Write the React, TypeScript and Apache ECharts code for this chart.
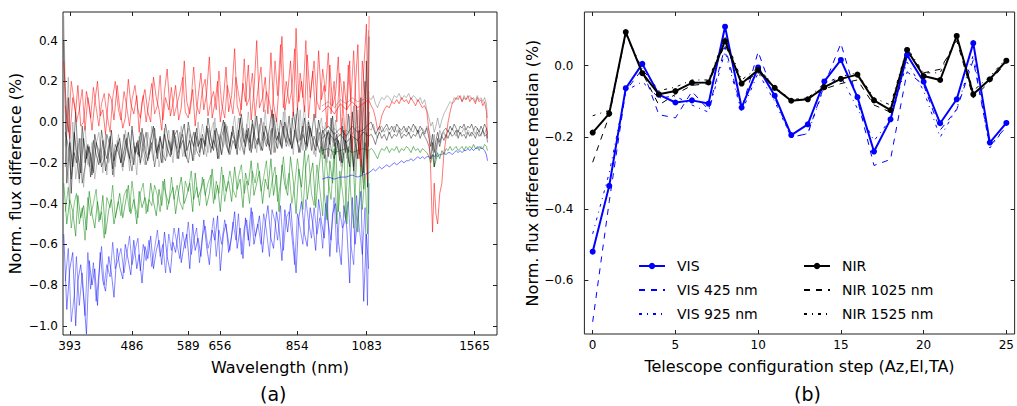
import React, { useEffect, useRef } from "react";
import * as echarts from "echarts";

// ---------- Panel (a): spectra ----------
const visWl = [
  385, 389, 393, 397, 401, 404, 408, 412, 416, 420,
  424, 428, 432, 436, 440, 444, 449, 453, 457, 462,
  466, 471, 475, 480, 484, 489, 494, 498, 503, 508,
  513, 518, 523, 528, 533, 538, 543, 548, 554, 559,
  564, 570, 575, 581, 586, 592, 598, 603, 609, 615,
  621, 627, 633, 639, 645, 651, 657, 664, 670, 676,
  683, 690, 696, 703, 710, 716, 723, 730, 737, 744,
  751, 759, 766, 773, 781, 788, 796, 803, 811, 819,
  827, 835, 843, 851, 859, 867, 876, 884, 893, 901,
  910, 919, 928, 937, 946, 955, 964, 974, 983, 993,
  1002, 1012, 1022, 1031, 1041, 1051, 1062, 1072, 1082, 1090,
];
const visWlB = [
  387, 391, 395, 399, 402, 406, 410, 414, 418, 422,
  426, 430, 434, 438, 442, 446, 451, 455, 459, 464,
  468, 473, 477, 482, 486, 491, 496, 500, 505, 510,
  515, 520, 525, 530, 535, 540, 545, 551, 556, 561,
  567, 572, 578, 583, 589, 595, 600, 606, 612, 618,
  624, 630, 636, 642, 648, 654, 660, 667, 673, 679,
  686, 693, 699, 706, 713, 719, 726, 733, 740, 747,
  755, 762, 769, 777, 784, 792, 799, 807, 815, 823,
  831, 839, 847, 855, 863, 871, 880, 888, 897, 905,
  914, 923, 932, 941, 950, 959, 969, 978, 988, 997,
  1007, 1017, 1026, 1036, 1046, 1056, 1067, 1077, 1086, 1092,
];

const blueVis1 = [
  -0.55, -0.92, -0.72, -0.64, -1.00, -0.78, -0.70, -0.86, -1.04, -0.68,
  -0.80, -0.72, -0.90, -0.64, -0.78, -0.83, -0.66, -0.74, -0.86, -0.62,
  -0.71, -0.77, -0.60, -0.68, -0.75, -0.58, -0.72, -0.65, -0.79, -0.61,
  -0.67, -0.56, -0.72, -0.63, -0.58, -0.70, -0.54, -0.66, -0.74, -0.59,
  -0.64, -0.52, -0.69, -0.60, -0.55, -0.72, -0.50, -0.63, -0.57, -0.66,
  -0.48, -0.61, -0.70, -0.53, -0.58, -0.46, -0.73, -0.55, -0.50, -0.64,
  -0.56, -0.44, -0.62, -0.52, -0.67, -0.47, -0.58, -0.42, -0.60, -0.53,
  -0.46, -0.64, -0.50, -0.41, -0.57, -0.62, -0.44, -0.52, -0.68, -0.43,
  -0.54, -0.40, -0.58, -0.74, -0.47, -0.39, -0.55, -0.61, -0.42, -0.50,
  -0.63, -0.38, -0.49, -0.57, -0.36, -0.66, -0.45, -0.40, -0.58, -0.70,
  -0.41, -0.52, -0.79, -0.37, -0.60, -0.46, -0.34, -0.88, -0.55, -0.72,
];
const blueVis2 = [
  -0.78, -0.62, -0.98, -0.85, -0.66, -0.90, -0.74, -0.95, -0.64, -0.82,
  -0.69, -0.88, -0.75, -0.61, -0.80, -0.70, -0.76, -0.59, -0.72, -0.67,
  -0.62, -0.74, -0.66, -0.56, -0.70, -0.63, -0.57, -0.73, -0.60, -0.68,
  -0.58, -0.71, -0.62, -0.53, -0.66, -0.60, -0.74, -0.55, -0.63, -0.52,
  -0.60, -0.67, -0.54, -0.62, -0.49, -0.65, -0.58, -0.52, -0.69, -0.56,
  -0.51, -0.62, -0.57, -0.47, -0.66, -0.53, -0.60, -0.48, -0.55, -0.63,
  -0.49, -0.58, -0.45, -0.65, -0.52, -0.48, -0.61, -0.44, -0.56, -0.50,
  -0.60, -0.45, -0.53, -0.66, -0.43, -0.49, -0.58, -0.41, -0.63, -0.47,
  -0.44, -0.56, -0.70, -0.45, -0.52, -0.60, -0.38, -0.49, -0.57, -0.42,
  -0.55, -0.47, -0.62, -0.40, -0.50, -0.58, -0.37, -0.64, -0.44, -0.52,
  -0.48, -0.39, -0.60, -0.70, -0.36, -0.52, -0.65, -0.42, -0.90, -0.30,
];
const greenVis1 = [
  -0.30, -0.50, -0.38, -0.44, -0.56, -0.36, -0.47, -0.41, -0.53, -0.34,
  -0.45, -0.52, -0.39, -0.48, -0.36, -0.55, -0.43, -0.38, -0.50, -0.42,
  -0.35, -0.47, -0.40, -0.31, -0.45, -0.38, -0.50, -0.34, -0.42, -0.37,
  -0.44, -0.30, -0.39, -0.46, -0.33, -0.41, -0.28, -0.43, -0.36, -0.32,
  -0.45, -0.34, -0.27, -0.40, -0.36, -0.30, -0.44, -0.25, -0.37, -0.33,
  -0.28, -0.41, -0.35, -0.23, -0.38, -0.31, -0.44, -0.26, -0.34, -0.29,
  -0.39, -0.22, -0.33, -0.28, -0.42, -0.25, -0.31, -0.19, -0.36, -0.30,
  -0.24, -0.40, -0.28, -0.33, -0.18, -0.36, -0.26, -0.44, -0.21, -0.31,
  -0.36, -0.17, -0.29, -0.45, -0.23, -0.32, -0.14, -0.38, -0.27, -0.20,
  -0.42, -0.25, -0.12, -0.35, -0.48, -0.19, -0.30, -0.10, -0.44, -0.26,
  -0.15, -0.50, -0.28, -0.08, -0.40, -0.54, -0.18, -0.33, -0.05, -0.45,
];
const greenVis2 = [
  -0.44, -0.32, -0.52, -0.40, -0.35, -0.50, -0.42, -0.58, -0.37, -0.46,
  -0.40, -0.33, -0.49, -0.44, -0.57, -0.37, -0.42, -0.31, -0.47, -0.39,
  -0.46, -0.36, -0.33, -0.44, -0.29, -0.41, -0.47, -0.35, -0.30, -0.45,
  -0.38, -0.41, -0.31, -0.36, -0.44, -0.29, -0.35, -0.40, -0.27, -0.38,
  -0.31, -0.39, -0.43, -0.29, -0.34, -0.24, -0.38, -0.32, -0.41, -0.27,
  -0.36, -0.30, -0.26, -0.40, -0.29, -0.35, -0.22, -0.39, -0.31, -0.24,
  -0.33, -0.37, -0.27, -0.21, -0.35, -0.29, -0.40, -0.24, -0.30, -0.20,
  -0.34, -0.27, -0.19, -0.37, -0.29, -0.22, -0.39, -0.30, -0.17, -0.33,
  -0.25, -0.40, -0.31, -0.18, -0.28, -0.43, -0.22, -0.16, -0.35, -0.41,
  -0.21, -0.33, -0.46, -0.16, -0.29, -0.38, -0.13, -0.50, -0.24, -0.34,
  -0.47, -0.12, -0.36, -0.52, -0.20, -0.10, -0.43, -0.26, -0.55, -0.14,
];
const blackVis1 = [
  0.40, -0.30, -0.10, -0.22, 0.05, -0.16, -0.25, -0.08, -0.18, -0.12,
  -0.26, -0.06, -0.14, -0.20, -0.09, -0.24, -0.15, -0.04, -0.19, -0.12,
  -0.08, -0.22, -0.16, -0.05, -0.13, -0.21, -0.10, -0.17, -0.03, -0.14,
  -0.19, -0.09, -0.02, -0.15, -0.11, -0.20, -0.06, -0.13, -0.17, -0.04,
  -0.10, -0.18, -0.07, -0.01, -0.14, -0.09, -0.19, -0.05, -0.12, -0.08,
  -0.16, -0.02, -0.10, -0.13, -0.04, -0.18, -0.07, 0.01, -0.11, -0.15,
  -0.05, -0.09, -0.16, 0.02, -0.08, -0.12, -0.03, -0.15, -0.06, 0.03,
  -0.10, -0.14, -0.02, -0.07, -0.16, 0.04, -0.09, -0.05, -0.13, 0.00,
  -0.06, -0.11, 0.05, -0.04, -0.15, -0.08, 0.02, -0.12, -0.03, -0.09,
  -0.14, 0.01, -0.07, -0.18, -0.05, -0.11, 0.03, -0.16, -0.09, -0.20,
  -0.04, -0.13, -0.22, 0.05, -0.10, -0.18, 0.12, -0.25, 0.30, -0.12,
];
const blackVis2 = [
  -0.22, 0.12, -0.35, -0.05, -0.14, -0.28, -0.02, -0.20, -0.11, -0.27,
  -0.09, -0.16, -0.21, -0.04, -0.13, -0.18, -0.07, -0.23, -0.11, -0.15,
  -0.20, -0.06, -0.12, -0.18, -0.02, -0.15, -0.09, -0.20, -0.12, -0.05,
  -0.16, -0.12, -0.03, -0.18, -0.08, -0.13, -0.01, -0.10, -0.16, -0.07,
  -0.04, -0.13, -0.09, -0.17, 0.00, -0.08, -0.12, -0.03, -0.15, -0.06,
  -0.11, 0.02, -0.07, -0.14, -0.03, -0.09, -0.16, 0.00, -0.06, -0.12,
  -0.02, -0.13, -0.06, 0.04, -0.10, -0.04, -0.14, 0.01, -0.08, -0.11,
  0.02, -0.07, -0.12, -0.03, 0.06, -0.09, -0.13, 0.01, -0.05, -0.10,
  0.03, -0.13, -0.06, 0.07, -0.09, -0.02, -0.14, 0.00, -0.07, 0.04,
  -0.10, -0.15, -0.04, -0.08, -0.17, 0.02, -0.12, -0.06, -0.19, -0.02,
  -0.15, 0.04, -0.09, -0.24, 0.08, -0.16, -0.05, 0.20, -0.32, 0.42,
];
const blackVis3 = [
  -0.05, -0.12, -0.28, -0.15, -0.20, -0.08, -0.30, -0.22, -0.12, -0.16,
  -0.25, -0.10, -0.14, -0.22, -0.18, -0.06, -0.12, -0.26, -0.15, -0.10,
  -0.20, -0.14, -0.08, -0.18, -0.24, -0.12, -0.16, -0.05, -0.13, -0.21,
  -0.15, -0.10, -0.22, -0.13, -0.07, -0.16, -0.19, -0.09, -0.14, -0.04,
  -0.18, -0.11, -0.06, -0.15, -0.20, -0.10, -0.05, -0.14, -0.17, -0.08,
  -0.12, -0.03, -0.15, -0.09, -0.13, -0.18, -0.07, -0.02, -0.12, -0.16,
  -0.09, -0.13, -0.04, -0.11, -0.16, -0.06, -0.10, -0.01, -0.13, -0.08,
  -0.14, -0.05, -0.09, -0.12, -0.03, -0.15, -0.07, -0.11, -0.02, -0.12,
  -0.08, -0.13, -0.04, -0.10, -0.15, -0.06, -0.11, -0.02, -0.14, -0.07,
  -0.12, -0.05, -0.16, -0.09, -0.04, -0.13, -0.18, -0.08, -0.11, -0.20,
  -0.09, -0.15, -0.06, -0.22, -0.12, -0.04, -0.26, -0.10, -0.18, 0.05,
];
const grayVis1 = [
  0.52, -0.12, -0.38, 0.00, -0.28, -0.20, -0.08, -0.32, -0.14, -0.22,
  -0.10, -0.28, -0.18, -0.13, -0.25, -0.06, -0.20, -0.15, -0.27, -0.09,
  -0.17, -0.24, -0.04, -0.14, -0.20, -0.10, -0.26, -0.07, -0.16, -0.21,
  -0.05, -0.12, -0.19, -0.08, -0.22, -0.14, -0.03, -0.17, -0.10, -0.20,
  -0.07, -0.15, -0.02, -0.12, -0.18, -0.06, -0.10, -0.16, 0.00, -0.13,
  -0.09, -0.17, -0.04, -0.11, 0.02, -0.14, -0.07, -0.12, -0.01, -0.16,
  -0.06, 0.03, -0.10, -0.14, -0.03, -0.08, 0.05, -0.12, -0.05, -0.15,
  -0.01, -0.09, 0.06, -0.11, -0.04, -0.15, 0.02, -0.07, -0.12, 0.07,
  -0.08, -0.03, -0.16, 0.04, -0.10, -0.05, 0.08, -0.13, -0.02, -0.09,
  -0.17, -0.04, 0.02, -0.12, -0.20, -0.06, -0.10, 0.01, -0.15, -0.22,
  -0.07, -0.18, 0.03, -0.12, -0.26, 0.06, -0.14, -0.30, 0.18, 0.45,
];
const grayVis2 = [
  -0.12, 0.22, -0.26, -0.06, -0.18, -0.30, -0.10, -0.02, -0.21, -0.15,
  -0.24, -0.11, -0.05, -0.19, -0.14, -0.26, -0.08, -0.17, -0.22, -0.06,
  -0.13, -0.19, -0.09, -0.24, -0.04, -0.16, -0.11, -0.21, -0.06, -0.14,
  -0.18, -0.02, -0.11, -0.16, -0.07, -0.20, -0.13, -0.04, -0.15, -0.09,
  -0.13, -0.05, -0.17, -0.10, -0.03, -0.14, -0.19, -0.07, -0.11, -0.01,
  -0.08, -0.15, -0.05, 0.00, -0.12, -0.06, -0.16, -0.09, -0.02, -0.13,
  -0.04, -0.10, 0.02, -0.07, -0.15, -0.01, -0.09, -0.13, 0.03, -0.06,
  -0.11, 0.00, -0.05, -0.14, 0.04, -0.08, -0.03, -0.12, 0.05, -0.07,
  -0.12, 0.02, -0.06, -0.10, 0.06, -0.14, -0.04, 0.01, -0.11, -0.16,
  -0.03, -0.09, -0.14, 0.00, -0.12, -0.18, -0.05, -0.10, -0.16, 0.02,
  -0.11, -0.20, -0.06, 0.08, -0.18, -0.09, -0.27, 0.10, -0.20, 0.15,
];
const redVis1 = [
  0.30, 0.02, -0.08, 0.12, 0.05, 0.18, -0.02, 0.00, 0.15, 0.08,
  -0.04, 0.10, 0.20, 0.03, 0.06, -0.06, 0.14, 0.11, 0.01, 0.18,
  0.07, -0.03, 0.02, 0.21, 0.09, 0.04, 0.13, -0.05, 0.10, 0.16,
  0.05, 0.00, 0.22, 0.12, 0.06, -0.04, 0.15, 0.26, 0.03, 0.09,
  0.18, 0.01, 0.07, 0.30, 0.10, 0.04, 0.16, -0.02, 0.12, 0.24,
  0.06, 0.14, 0.32, 0.02, 0.09, 0.20, 0.00, 0.11, 0.27, 0.05,
  0.13, 0.36, 0.08, 0.03, 0.19, 0.10, 0.28, 0.01, 0.15, 0.40,
  0.07, 0.12, 0.22, 0.04, 0.34, 0.09, 0.00, 0.18, 0.42, 0.06,
  0.14, 0.30, 0.03, 0.46, 0.10, 0.20, 0.05, 0.33, 0.12, 0.25,
  0.02, 0.35, 0.11, 0.18, -0.03, 0.28, 0.08, 0.14, 0.32, -0.06,
  0.20, 0.06, 0.30, -0.15, 0.15, 0.38, -0.22, 0.25, 0.48, -0.10,
];
const redVis2 = [
  0.08, -0.05, 0.20, 0.10, 0.00, 0.06, 0.16, -0.04, 0.12, 0.02,
  0.17, 0.07, -0.02, 0.09, 0.14, 0.04, -0.05, 0.12, 0.20, 0.06,
  0.01, 0.15, 0.08, -0.02, 0.11, 0.18, 0.06, 0.02, 0.13, 0.00,
  0.10, 0.19, 0.04, 0.08, 0.23, 0.01, 0.12, 0.06, 0.17, 0.03,
  0.09, 0.14, 0.22, 0.05, 0.02, 0.12, 0.27, 0.08, 0.04, 0.16,
  0.21, 0.03, 0.10, 0.15, 0.06, 0.25, 0.09, 0.02, 0.18, 0.12,
  0.04, 0.22, 0.14, 0.06, 0.31, 0.08, 0.12, 0.24, 0.03, 0.16,
  0.27, 0.05, 0.15, 0.10, 0.02, 0.30, 0.13, 0.38, 0.07, 0.20,
  0.09, 0.16, 0.36, 0.06, 0.24, 0.12, 0.40, 0.02, 0.18, 0.30,
  0.10, 0.06, 0.26, 0.15, 0.34, 0.04, 0.20, 0.00, 0.24, 0.12,
  -0.08, 0.28, 0.10, 0.35, 0.02, -0.18, 0.30, 0.12, -0.28, 0.52,
];

const nirWl = [
  930, 950, 970, 990, 1010, 1030, 1050, 1070, 1090,
  1100, 1108, 1116, 1124, 1132, 1140,
  1150, 1160, 1170, 1180, 1190, 1200, 1210, 1220, 1230, 1240,
  1250, 1260, 1270, 1280, 1290, 1300, 1310, 1320, 1330, 1340,
  1348, 1356, 1364, 1372, 1380, 1390, 1400, 1410, 1420, 1430,
  1440, 1450, 1460, 1470, 1480, 1490, 1500, 1510, 1520, 1530,
  1540, 1550, 1560, 1570, 1580, 1590, 1600, 1610, 1620, 1630, 1636,
];
const redNir = [
  0.05, 0.08, 0.04, 0.09, 0.06, 0.10, 0.07, 0.09, 0.11,
  0.08, 0.06, 0.02, -0.04, -0.02, 0.03,
  0.06, 0.08, 0.07, 0.10, 0.09, 0.11, 0.09, 0.12, 0.10, 0.11,
  0.09, 0.12, 0.10, 0.08, 0.11, 0.09, 0.07, 0.08, 0.05, -0.05,
  -0.25, -0.54, -0.30, -0.45, -0.50, -0.35, -0.30, -0.15, -0.08, 0.00,
  0.05, 0.09, 0.10, 0.12, 0.11, 0.13, 0.10, 0.12, 0.11, 0.13,
  0.10, 0.12, 0.11, 0.09, 0.12, 0.10, 0.11, 0.08, 0.10, 0.05, -0.08,
];
const grayNirTop = [
  0.08, 0.10, 0.07, 0.11, 0.09, 0.12, 0.10, 0.11, 0.12,
  0.11, 0.13, 0.09, 0.07, 0.10, 0.12,
  0.11, 0.13, 0.12, 0.10, 0.13, 0.12, 0.14, 0.11, 0.13, 0.12,
  0.14, 0.11, 0.13, 0.12, 0.10, 0.12, 0.09, 0.11, 0.06, 0.02,
  -0.02, 0.00, -0.05, -0.02, 0.02, -0.03, 0.01, 0.04, 0.06, 0.08,
  0.10, 0.09, 0.12, 0.11, 0.13, 0.12, 0.10, 0.13, 0.11, 0.12,
  0.13, 0.11, 0.12, 0.10, 0.13, 0.11, 0.12, 0.10, 0.12, 0.09, 0.02,
];
const blackNir1 = [
  -0.05, -0.02, -0.06, -0.03, -0.07, -0.02, -0.05, -0.04, -0.01,
  0.00, -0.03, -0.06, -0.04, -0.02, -0.05,
  -0.03, -0.01, -0.04, -0.02, -0.05, -0.01, -0.03, -0.04, -0.02, -0.05,
  -0.02, -0.04, -0.01, -0.03, -0.05, -0.02, -0.04, -0.06, -0.03, -0.08,
  -0.12, -0.06, -0.15, -0.09, -0.05, -0.10, -0.06, -0.04, -0.03, -0.05,
  -0.02, -0.04, -0.01, -0.03, -0.05, -0.02, -0.03, -0.01, -0.04, -0.02,
  -0.03, -0.01, -0.04, -0.02, -0.03, -0.05, -0.02, -0.04, -0.01, -0.03, -0.06,
];
const blackNir2 = [
  -0.08, -0.05, -0.09, -0.06, -0.10, -0.07, -0.09, -0.05, -0.07,
  -0.06, -0.08, -0.11, -0.07, -0.05, -0.08,
  -0.06, -0.09, -0.05, -0.08, -0.06, -0.07, -0.04, -0.08, -0.06, -0.07,
  -0.05, -0.08, -0.06, -0.07, -0.04, -0.08, -0.05, -0.07, -0.09, -0.12,
  -0.18, -0.10, -0.22, -0.14, -0.08, -0.12, -0.07, -0.09, -0.06, -0.08,
  -0.05, -0.07, -0.06, -0.04, -0.08, -0.05, -0.07, -0.06, -0.08, -0.05,
  -0.07, -0.05, -0.06, -0.08, -0.05, -0.07, -0.06, -0.04, -0.07, -0.06, -0.10,
];
const grayNir3 = [
  -0.02, -0.06, -0.03, -0.07, -0.04, -0.06, -0.02, -0.05, -0.03,
  -0.04, -0.01, -0.05, -0.08, -0.03, -0.02,
  -0.05, -0.03, -0.06, -0.04, -0.02, -0.05, -0.03, -0.06, -0.04, -0.03,
  -0.06, -0.04, -0.05, -0.02, -0.06, -0.04, -0.03, -0.05, -0.02, -0.04,
  -0.08, -0.14, -0.06, -0.18, -0.10, -0.04, -0.07, -0.05, -0.08, -0.04,
  -0.06, -0.03, -0.05, -0.07, -0.04, -0.06, -0.05, -0.03, -0.06, -0.04,
  -0.05, -0.07, -0.04, -0.06, -0.03, -0.05, -0.07, -0.04, -0.06, -0.03, -0.08,
];
const greenNir = [
  -0.14, -0.13, -0.15, -0.14, -0.13, -0.15, -0.14, -0.13, -0.14,
  -0.13, -0.14, -0.16, -0.18, -0.15, -0.13,
  -0.14, -0.12, -0.15, -0.13, -0.14, -0.12, -0.15, -0.13, -0.14, -0.12,
  -0.13, -0.15, -0.12, -0.14, -0.13, -0.15, -0.13, -0.14, -0.15, -0.17,
  -0.20, -0.16, -0.22, -0.19, -0.15, -0.18, -0.14, -0.16, -0.13, -0.14,
  -0.12, -0.14, -0.13, -0.12, -0.14, -0.13, -0.12, -0.14, -0.12, -0.13,
  -0.12, -0.13, -0.11, -0.13, -0.12, -0.14, -0.12, -0.13, -0.11, -0.12, -0.14,
];
const blueNir = [
  -0.28, -0.27, -0.28, -0.27, -0.27, -0.26, -0.27, -0.26, -0.25,
  -0.24, -0.23, -0.24, -0.23, -0.22, -0.23,
  -0.22, -0.21, -0.22, -0.21, -0.20, -0.21, -0.20, -0.19, -0.20, -0.19,
  -0.19, -0.18, -0.19, -0.18, -0.17, -0.18, -0.17, -0.18, -0.17, -0.17,
  -0.18, -0.16, -0.17, -0.16, -0.17, -0.16, -0.16, -0.15, -0.16, -0.15,
  -0.15, -0.16, -0.15, -0.14, -0.15, -0.14, -0.15, -0.14, -0.14, -0.13,
  -0.14, -0.13, -0.14, -0.13, -0.13, -0.12, -0.13, -0.13, -0.14, -0.16, -0.19,
];

const wlTicks = [393, 486, 589, 656, 854, 1083, 1565];
const fluxTicks = [-1.0, -0.8, -0.6, -0.4, -0.2, 0.0, 0.2, 0.4];

// ---------- Panel (b): medians per configuration step ----------
const steps = [0, 1, 2, 3, 4, 5, 6, 7, 8, 9, 10, 11, 12, 13, 14, 15, 16, 17, 18, 19, 20, 21, 22, 23, 24, 25];
const visMedian = [-0.52, -0.336, -0.063, 0.005, -0.081, -0.103, -0.097, -0.106, 0.109, -0.117, -0.005, -0.084, -0.194, -0.164, -0.044, 0.016, -0.088, -0.24, -0.15, 0.03, -0.045, -0.161, -0.094, 0.063, -0.215, -0.16];
const vis425 = [-0.716, -0.38, -0.07, -0.01, -0.137, -0.146, -0.072, -0.123, 0.053, -0.123, 0.039, -0.09, -0.2, -0.19, -0.054, 0.062, -0.095, -0.279, -0.262, -0.017, -0.054, -0.18, -0.123, 0.016, -0.225, -0.17];
const vis925 = [-0.47, -0.3, -0.07, -0.045, -0.09, -0.085, -0.11, -0.13, 0.04, -0.13, -0.02, -0.1, -0.2, -0.19, -0.06, -0.03, -0.12, -0.21, -0.15, 0.01, -0.07, -0.2, -0.12, 0.03, -0.23, -0.17];
const nirMedian = [-0.187, -0.134, 0.094, -0.021, -0.08, -0.071, -0.048, -0.047, 0.069, -0.05, -0.012, -0.062, -0.098, -0.094, -0.06, -0.037, -0.025, -0.097, -0.124, 0.044, -0.029, -0.04, 0.083, -0.08, -0.038, 0.014];
const nir1025 = [-0.27, -0.14, 0.09, -0.02, -0.11, -0.08, -0.055, -0.05, 0.06, -0.05, -0.02, -0.06, -0.1, -0.09, -0.065, -0.05, -0.04, -0.11, -0.13, 0.04, -0.02, -0.01, 0.07, -0.09, -0.045, 0.01];
const nir1525 = [-0.14, -0.125, 0.09, -0.01, -0.07, -0.06, -0.04, -0.04, 0.08, -0.04, -0.005, -0.06, -0.095, -0.09, -0.05, -0.03, -0.02, -0.09, -0.11, 0.05, -0.02, -0.02, 0.08, -0.07, -0.03, 0.02];
const stepTicks = [0, 5, 10, 15, 20, 25];
const medianTicks = [-0.6, -0.4, -0.2, 0.0];

const FONT = "DejaVu Sans";
const minus = (s: string) => s.replace(/-/g, "\u2212");

export default function App() {
  const ref = useRef<HTMLDivElement>(null);
  useEffect(() => {
    if (!ref.current) return;
    const chart = echarts.init(ref.current, null, { renderer: "svg" });

    const pair = (wl: number[], v: number[]) => wl.map((w, i) => [Math.log(w), v[i]]);
    const spec = (wl: number[], v: number[], color: string, opacity: number) => ({
      type: "line",
      xAxisIndex: 0,
      yAxisIndex: 0,
      data: pair(wl, v),
      symbol: "none",
      silent: true,
      clip: true,
      lineStyle: { color, width: 0.9, opacity },
    });
    const med = (name: string, v: number[], color: string, type: any, marker: boolean, width: number, z: number) => ({
      name,
      type: "line",
      xAxisIndex: 2,
      yAxisIndex: 2,
      data: steps.map((s, i) => [s, v[i]]),
      symbol: marker ? "circle" : "none",
      symbolSize: 6,
      z,
      itemStyle: { color },
      lineStyle: { color, width, type },
    });

    const tickLabel = { fontFamily: FONT, fontSize: 12, color: "#000" };
    const nameStyle = { fontFamily: FONT, fontSize: 16, color: "#000" };
    const lnMin = Math.log(384);
    const lnMax = Math.log(1690);
    const lnTicks = wlTicks.map((w) => Math.log(w));
    const noLine = { show: false, onZero: false };
    const tick = (vals: number[]) => ({ inside: true, length: 4, lineStyle: { color: "#222" }, customValues: vals });
    const legendText = { fontFamily: FONT, fontSize: 14, color: "#000", lineHeight: 16, padding: [0, 0, 0, 7] };
    const hidden = { opacity: 0 };

    const option: any = {
      animation: false,
      grid: [
        { left: 63, top: 12, width: 434, height: 323, show: true, borderColor: "#222", borderWidth: 1, backgroundColor: "transparent" },
        { left: 584.4, top: 12, width: 433.3, height: 322, show: true, borderColor: "#222", borderWidth: 1, backgroundColor: "transparent" },
      ],
      xAxis: [
        {
          gridIndex: 0, type: "value", min: lnMin, max: lnMax, position: "bottom",
          axisLine: noLine, splitLine: { show: false }, axisTick: tick(lnTicks),
          axisLabel: { ...tickLabel, margin: 5, customValues: lnTicks, formatter: (v: number) => String(Math.round(Math.exp(v))) },
          name: "Wavelength (nm)", nameLocation: "middle", nameGap: 24, nameTextStyle: nameStyle,
        },
        {
          gridIndex: 0, type: "value", min: lnMin, max: lnMax, position: "top",
          axisLine: noLine, splitLine: { show: false }, axisLabel: { show: false }, axisTick: tick(lnTicks),
        },
        {
          gridIndex: 1, type: "value", min: -0.5, max: 25.5, position: "bottom",
          axisLine: noLine, splitLine: { show: false }, axisTick: tick(stepTicks),
          axisLabel: { ...tickLabel, margin: 5, customValues: stepTicks },
          name: "Telescope configuration step (Az,El,TA)", nameLocation: "middle", nameGap: 24, nameTextStyle: nameStyle,
        },
        {
          gridIndex: 1, type: "value", min: -0.5, max: 25.5, position: "top",
          axisLine: noLine, splitLine: { show: false }, axisLabel: { show: false }, axisTick: tick(stepTicks),
        },
      ],
      yAxis: [
        {
          gridIndex: 0, type: "value", min: -1.045, max: 0.54, position: "left",
          axisLine: noLine, splitLine: { show: false }, axisTick: tick(fluxTicks),
          axisLabel: { ...tickLabel, margin: 5, customValues: fluxTicks, formatter: (v: number) => minus(v.toFixed(1)) },
          name: "Norm. flux difference (%)", nameLocation: "middle", nameGap: 40, nameTextStyle: nameStyle,
        },
        {
          gridIndex: 0, type: "value", min: -1.045, max: 0.54, position: "right",
          axisLine: noLine, splitLine: { show: false }, axisLabel: { show: false }, axisTick: tick(fluxTicks),
        },
        {
          gridIndex: 1, type: "value", min: -0.75, max: 0.15, position: "left",
          axisLine: noLine, splitLine: { show: false }, axisTick: tick(medianTicks),
          axisLabel: { ...tickLabel, margin: 11, customValues: medianTicks, formatter: (v: number) => minus(v.toFixed(1)) },
          name: "Norm. flux difference median (%)", nameLocation: "middle", nameGap: 40, nameTextStyle: nameStyle,
        },
        {
          gridIndex: 1, type: "value", min: -0.75, max: 0.15, position: "right",
          axisLine: noLine, splitLine: { show: false }, axisLabel: { show: false }, axisTick: tick(medianTicks),
        },
      ],
      legend: [
        {
          data: ["VIS", { name: "VIS 425 nm", itemStyle: hidden }, { name: "VIS 925 nm", itemStyle: hidden }],
          orient: "vertical", left: 638, top: 258,
          itemWidth: 26, itemHeight: 8, itemGap: 8, padding: 0, selectedMode: false, textStyle: legendText,
        },
        {
          data: ["NIR", { name: "NIR 1025 nm", itemStyle: hidden }, { name: "NIR 1525 nm", itemStyle: hidden }],
          orient: "vertical", left: 803, top: 258,
          itemWidth: 26, itemHeight: 8, itemGap: 8, padding: 0, selectedMode: false, textStyle: legendText,
        },
      ],
      graphic: [
        { type: "text", left: 260, top: 384, style: { text: "(a)", fontFamily: FONT, fontSize: 19, fill: "#000" } },
        { type: "text", left: 794, top: 384, style: { text: "(b)", fontFamily: FONT, fontSize: 19, fill: "#000" } },
      ],
      series: [
        spec(visWl, blueVis1, "#0000ff", 0.55),
        spec(visWlB, blueVis2, "#0000ff", 0.45),
        spec(visWl, greenVis1, "#008000", 0.6),
        spec(visWlB, greenVis2, "#008000", 0.5),
        spec(nirWl, blueNir, "#0000ff", 0.6),
        spec(nirWl, greenNir, "#008000", 0.6),
        spec(visWl, grayVis1, "#808080", 0.5),
        spec(visWlB, grayVis2, "#808080", 0.5),
        spec(visWl, blackVis1, "#000000", 0.55),
        spec(visWlB, blackVis2, "#000000", 0.5),
        spec(visWlB, blackVis3, "#000000", 0.45),
        spec(nirWl, grayNirTop, "#808080", 0.6),
        spec(nirWl, grayNir3, "#808080", 0.6),
        spec(nirWl, blackNir1, "#000000", 0.5),
        spec(nirWl, blackNir2, "#000000", 0.5),
        spec(visWl, redVis1, "#ff0000", 0.6),
        spec(visWlB, redVis2, "#ff0000", 0.55),
        spec(nirWl, redNir, "#ff0000", 0.6),
        med("VIS 425 nm", vis425, "#0000ff", [6, 6], false, 1, 2),
        med("VIS 925 nm", vis925, "#0000ff", [3, 5, 1, 5], false, 1, 2),
        med("NIR 1025 nm", nir1025, "#000000", [6, 6], false, 1, 2),
        med("NIR 1525 nm", nir1525, "#000000", [3, 5, 1, 5], false, 1, 2),
        med("VIS", visMedian, "#0000ff", "solid", true, 2, 4),
        med("NIR", nirMedian, "#000000", "solid", true, 2, 4),
      ],
    };
    chart.setOption(option);
    return () => chart.dispose();
  }, []);
  return <div ref={ref} style={{ position: "absolute", left: 0, top: 0, width: 1017, height: 406 }} />;
}
